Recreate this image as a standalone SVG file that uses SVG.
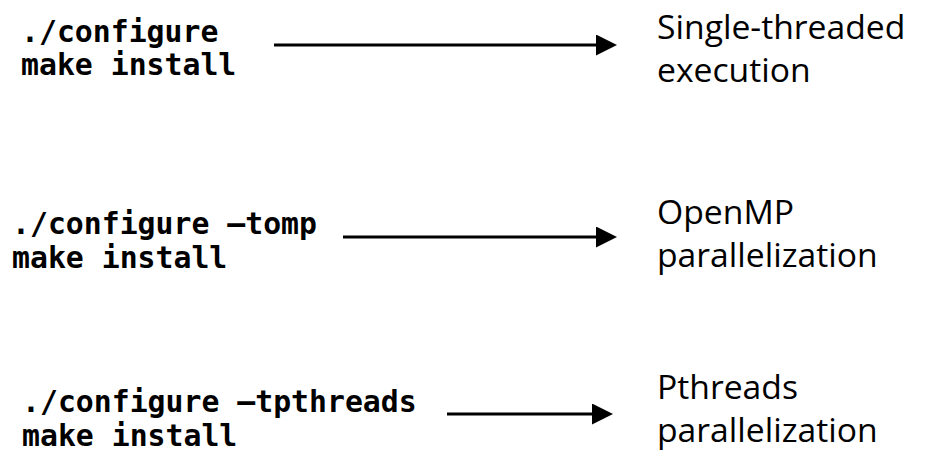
<svg xmlns="http://www.w3.org/2000/svg" width="930" height="452" viewBox="0 0 930 452">
  <style>
    .cmd { font-family: "DejaVu Sans Mono", "Liberation Mono", monospace; font-weight: bold; font-size: 29.8px; fill: #000; }
    .out { font-family: "Open Sans", "Noto Sans", sans-serif; font-size: 33.7px; fill: #000; }
    .conn { stroke: #000; stroke-width: 3; fill: none; }
  </style>
  <defs>
    <marker id="head" viewBox="0 0 10 10" refX="0" refY="5" markerWidth="7" markerHeight="7" markerUnits="strokeWidth" orient="auto">
      <path d="M0,0 L10,5 L0,10 Z" fill="#000"/>
    </marker>
  </defs>
  <rect width="930" height="452" fill="#fff"/>

  <!-- build commands -->
  <g id="cmd-default">
    <text class="cmd" x="21" y="42">./configure</text>
    <text class="cmd" x="21" y="75">make install</text>
  </g>
  <g id="cmd-omp">
    <text class="cmd" x="12" y="234">./configure –tomp</text>
    <text class="cmd" x="12" y="268">make install</text>
  </g>
  <g id="cmd-pthreads">
    <text class="cmd" x="22" y="412">./configure –tpthreads</text>
    <text class="cmd" x="22" y="446">make install</text>
  </g>

  <!-- resulting execution modes -->
  <g id="out-single">
    <text class="out" x="657" y="39">Single-threaded</text>
    <text class="out" x="657" y="82">execution</text>
  </g>
  <g id="out-omp">
    <text class="out" x="657" y="224">OpenMP</text>
    <text class="out" x="657" y="267">parallelization</text>
  </g>
  <g id="out-pthreads">
    <text class="out" x="657" y="399">Pthreads</text>
    <text class="out" x="657" y="442">parallelization</text>
  </g>

  <!-- connectors -->
  <g id="connectors">
    <line class="conn" x1="274" y1="45" x2="596" y2="45" marker-end="url(#head)"/>
    <line class="conn" x1="343" y1="237" x2="596" y2="237" marker-end="url(#head)"/>
    <line class="conn" x1="447" y1="414" x2="592" y2="414" marker-end="url(#head)"/>
  </g>
</svg>
